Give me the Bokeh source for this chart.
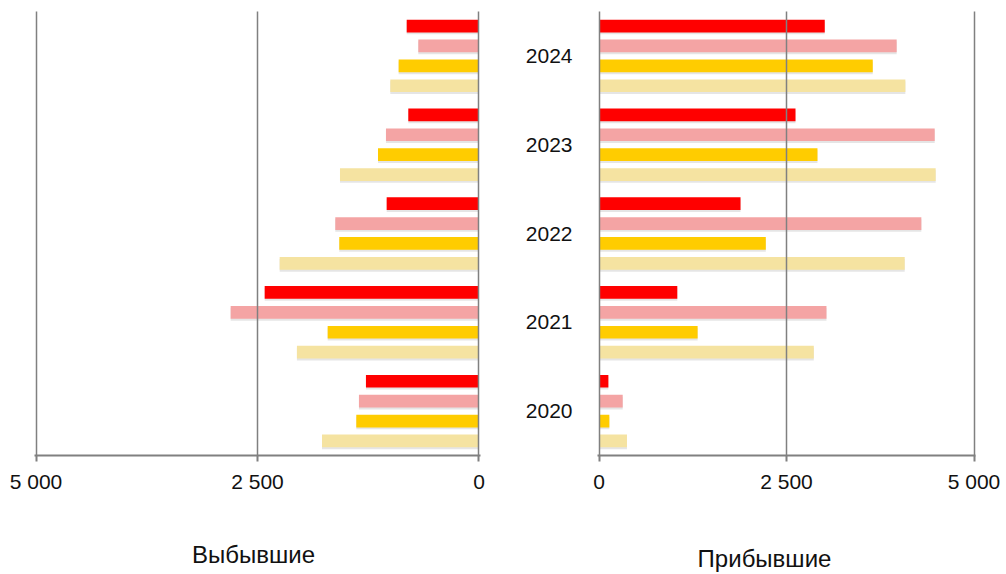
from bokeh.plotting import figure
from bokeh.models import ColumnDataSource, FactorRange, Range1d, FixedTicker, Label
from bokeh.transform import dodge
from bokeh.layouts import row, column
from bokeh.embed import file_html
from bokeh.resources import INLINE

# ---------------- data ----------------
years = ["2020", "2021", "2022", "2023", "2024"]

# Выбывшие (departed), four series per year
departed_red = [1276, 2419, 1042, 798, 816]
departed_pink = [1355, 2803, 1622, 1050, 685]
departed_gold = [1385, 1708, 1577, 1140, 907]
departed_light = [1772, 2055, 2250, 1569, 1001]

# Прибывшие (arrived), four series per year
arrived_red = [125, 1044, 1887, 2620, 3010]
arrived_pink = [316, 3033, 4298, 4476, 3969]
arrived_gold = [138, 1315, 2224, 2913, 3650]
arrived_light = [373, 2864, 4076, 4489, 4085]

tick_values = [0, 2500, 5000]
tick_labels = ["0", "2 500", "5 000"]
panel_titles = ["Выбывшие", "Прибывшие"]

# ---------------- style ----------------
series_keys = ["red", "pink", "gold", "light"]
series_colors = ["#ff0000", "#f4a4a4", "#ffcc00", "#f5e3a1"]
series_offsets = [0.336, 0.112, -0.112, -0.336]
bar_height = 0.143
FONT = "Liberation Sans"
GRID = "#808080"


def make_panel(values, x_start, x_end, width, height, b_left, b_right, b_top, b_bottom,
               show_years):
    data = dict(year=years)
    for k, v in zip(series_keys, values):
        data[k] = v
    src = ColumnDataSource(data)

    p = figure(width=width, height=height, y_range=FactorRange(*years),
               x_range=Range1d(x_start, x_end),
               output_backend="svg", toolbar_location=None,
               min_border_left=b_left, min_border_right=b_right,
               min_border_top=b_top, min_border_bottom=b_bottom)
    p.outline_line_color = None
    p.background_fill_color = "white"
    p.border_fill_color = "white"

    # soft drop shadow under each bar
    for k, off in zip(series_keys, series_offsets):
        p.hbar(y=dodge("year", off - 0.022, range=p.y_range), left=0, right=k,
               height=bar_height, source=src, fill_color="#000000",
               fill_alpha=0.10, line_color=None)
    for k, c, off in zip(series_keys, series_colors, series_offsets):
        p.hbar(y=dodge("year", off, range=p.y_range), left=0, right=k,
               height=bar_height, source=src, fill_color=c, line_color=None)

    p.xaxis.ticker = FixedTicker(ticks=tick_values)
    p.xaxis.major_label_overrides = dict(zip(tick_values, tick_labels))
    p.xaxis.axis_line_color = GRID
    p.xaxis.axis_line_width = 2
    p.xaxis.major_tick_line_color = GRID
    p.xaxis.major_tick_line_width = 2
    p.xaxis.major_tick_out = 6
    p.xaxis.major_tick_in = 0
    p.xaxis.minor_tick_line_color = None
    p.xaxis.major_label_standoff = 8
    p.xaxis.major_label_text_font = FONT
    p.xaxis.major_label_text_font_size = "21px"
    p.xaxis.major_label_text_color = "#111111"

    p.xgrid.ticker = FixedTicker(ticks=tick_values)
    p.xgrid.grid_line_color = GRID
    p.xgrid.grid_line_width = 1.5
    p.xgrid.level = "overlay"
    p.ygrid.grid_line_color = None

    if show_years:
        p.yaxis.axis_line_color = None
        p.yaxis.major_tick_line_color = None
        p.yaxis.minor_tick_line_color = None
        p.yaxis.major_tick_out = 0
        p.yaxis.major_label_standoff = 25
        p.yaxis.major_label_text_font = FONT
        p.yaxis.major_label_text_font_size = "21px"
        p.yaxis.major_label_text_color = "#111111"
    else:
        p.yaxis.visible = False
    return p


def make_title(text, width, height, cx, base_y):
    t = figure(width=width, height=height, output_backend="svg",
               toolbar_location=None, min_border=0,
               x_range=Range1d(0, 1), y_range=Range1d(0, 1))
    t.axis.visible = False
    t.grid.visible = False
    t.outline_line_color = None
    t.add_layout(Label(x=cx, y=base_y, x_units="screen", y_units="screen",
                       text=text, text_align="center", text_baseline="alphabetic",
                       text_font=FONT, text_font_size="24px", text_color="#111111"))
    return t


# x ranges padded by ~1.5 px so the grid lines at 0 and 5 000 are drawn
left = make_panel([departed_red, departed_pink, departed_gold, departed_light],
                  5017, -17, 500, 500, 34, 20, 9, 45, False)
right = make_panel([arrived_red, arrived_pink, arrived_gold, arrived_light],
                   -20, 5020, 506, 500, 97, 31, 11, 43, True)

left_title = make_title(panel_titles[0], 500, 74, 253, 20)
right_title = make_title(panel_titles[1], 506, 74, 264, 16)

layout = column(row(left, right), row(left_title, right_title))
open("out.html", "w").write(file_html(layout, INLINE))
